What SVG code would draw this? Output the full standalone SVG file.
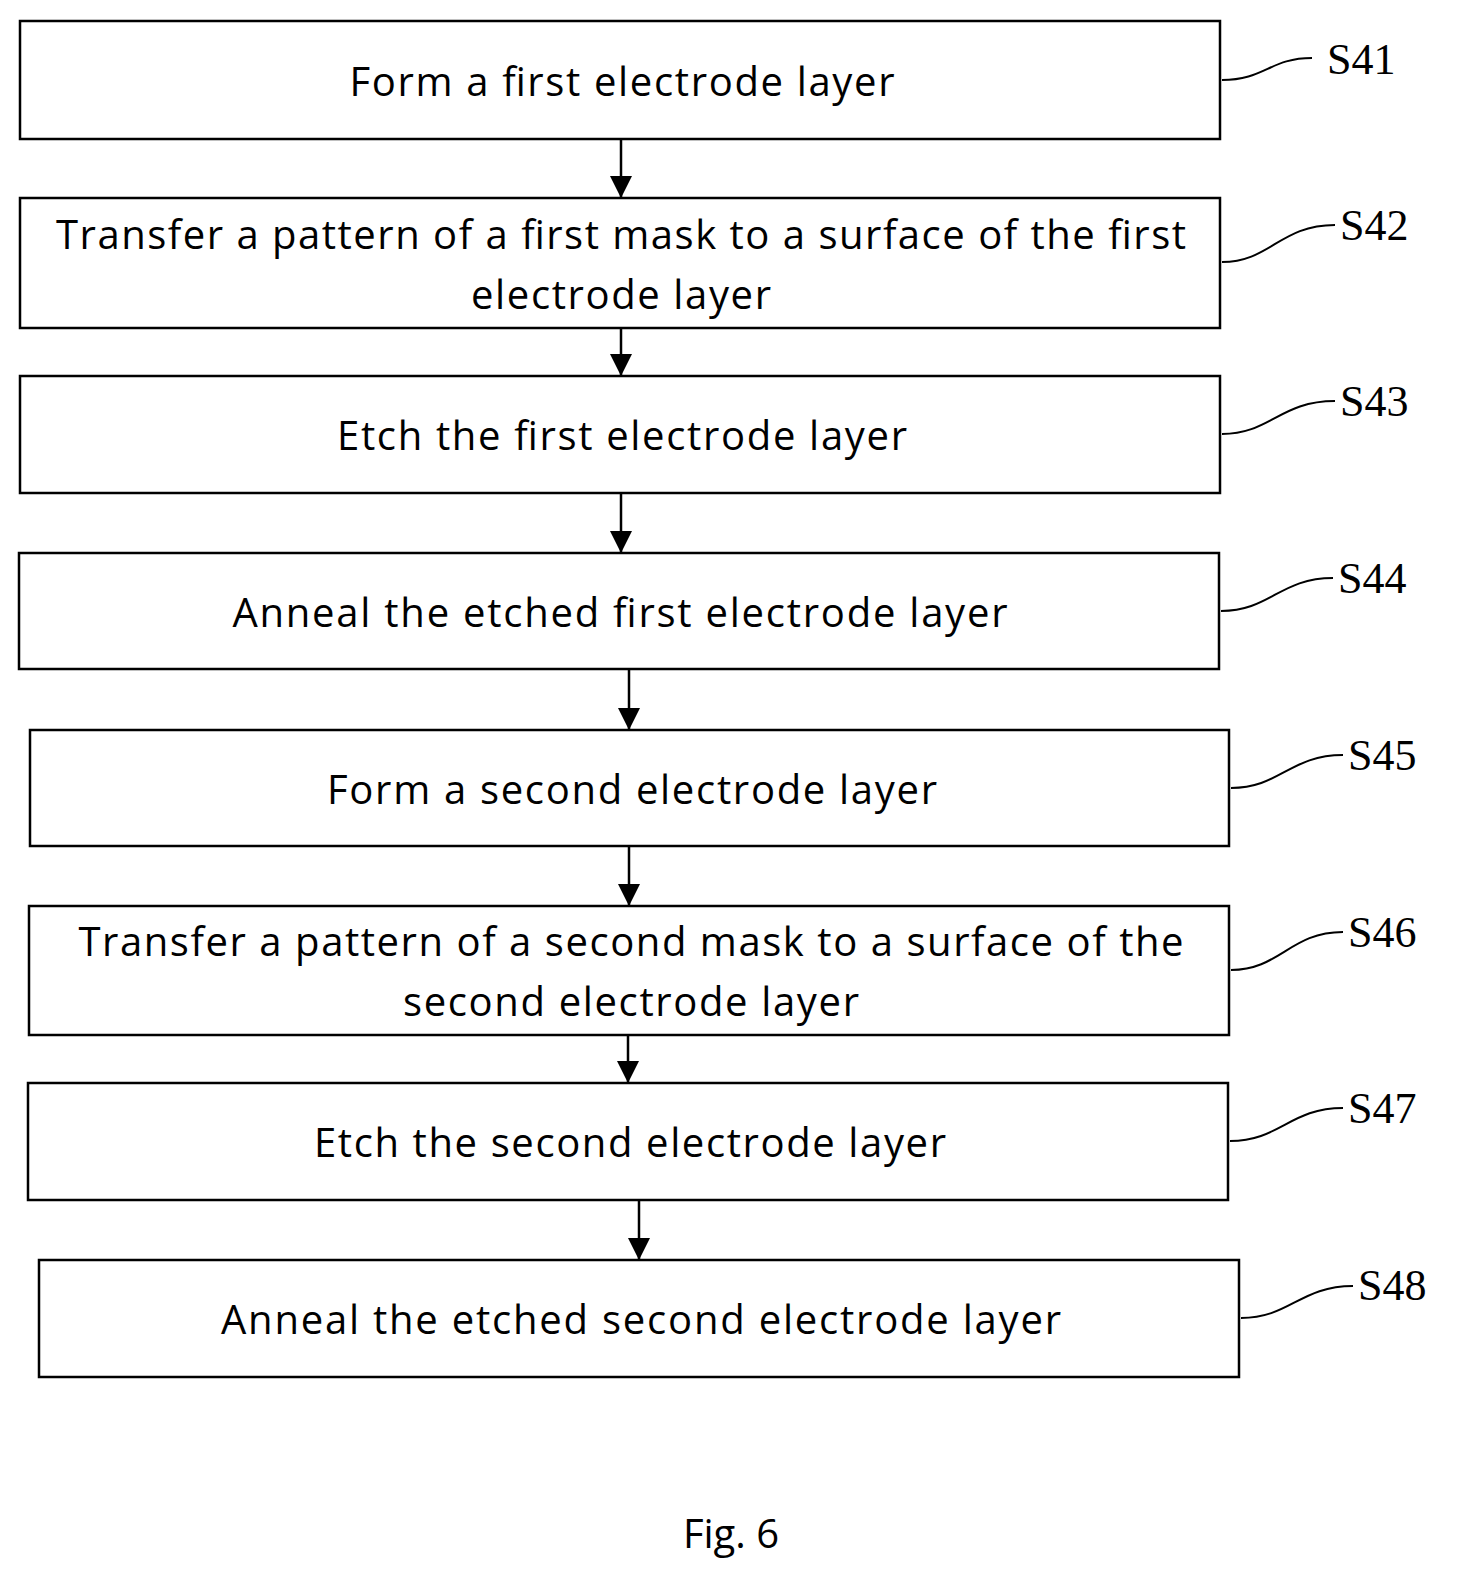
<svg xmlns="http://www.w3.org/2000/svg" width="1457" height="1576" viewBox="0 0 1457 1576">
<defs>
<style>
.b{fill:#fff;stroke:#000;stroke-width:2.5}
.t{font-family:"Open Sans","Liberation Sans",sans-serif;font-size:40px;text-anchor:middle;fill:#000}
.l{font-family:"Liberation Serif",serif;font-size:44px;fill:#000}
.c{fill:none;stroke:#000;stroke-width:2}
.a{stroke:#000;stroke-width:2.5;marker-end:url(#ah2)}
</style>
<marker id="ah2" viewBox="0 0 20 20" refX="20" refY="10" markerWidth="22" markerHeight="22" orient="auto" markerUnits="userSpaceOnUse"><path d="M0,0L20,10L0,20z"/></marker>
</defs>
<rect width="1457" height="1576" fill="#fff"/>
<g id="connectors">
<line class="a" x1="621" y1="139" x2="621" y2="198"/>
<line class="a" x1="621" y1="328" x2="621" y2="376"/>
<line class="a" x1="621" y1="493" x2="621" y2="553"/>
<line class="a" x1="629" y1="669" x2="629" y2="730"/>
<line class="a" x1="629" y1="846" x2="629" y2="906"/>
<line class="a" x1="628" y1="1035" x2="628" y2="1083"/>
<line class="a" x1="639" y1="1200" x2="639" y2="1260"/>
<path class="c" d="M1222,80 C1265,80 1270,58 1312,58"/>
<path class="c" d="M1222,262 C1270,262 1280,225 1335,225"/>
<path class="c" d="M1222,434 C1270,434 1280,401 1335,401"/>
<path class="c" d="M1221,611 C1270,611 1280,578 1333,578"/>
<path class="c" d="M1231,788 C1280,788 1290,755 1343,755"/>
<path class="c" d="M1231,970 C1280,970 1290,932 1343,932"/>
<path class="c" d="M1230,1141 C1280,1141 1290,1108 1343,1108"/>
<path class="c" d="M1241,1318 C1290,1318 1300,1286 1353,1286"/>
</g>
<g id="s41"><rect class="b" x="20" y="21" width="1200" height="118"/><text class="t" x="622" y="96" textLength="545">Form a first electrode layer</text><text class="l" x="1327" y="74">S41</text></g>
<g id="s42"><rect class="b" x="20" y="198" width="1200" height="130"/><text class="t" x="621" y="249" textLength="1130">Transfer a pattern of a first mask to a surface of the first</text><text class="t" x="621" y="309" textLength="300">electrode layer</text><text class="l" x="1340" y="240">S42</text></g>
<g id="s43"><rect class="b" x="20" y="376" width="1200" height="117"/><text class="t" x="622" y="450" textLength="570">Etch the first electrode layer</text><text class="l" x="1340" y="416">S43</text></g>
<g id="s44"><rect class="b" x="19" y="553" width="1200" height="116"/><text class="t" x="620" y="627" textLength="775">Anneal the etched first electrode layer</text><text class="l" x="1338" y="593">S44</text></g>
<g id="s45"><rect class="b" x="30" y="730" width="1199" height="116"/><text class="t" x="632" y="804" textLength="610">Form a second electrode layer</text><text class="l" x="1348" y="770">S45</text></g>
<g id="s46"><rect class="b" x="29" y="906" width="1200" height="129"/><text class="t" x="631" y="956" textLength="1105">Transfer a pattern of a second mask to a surface of the</text><text class="t" x="631" y="1016" textLength="456">second electrode layer</text><text class="l" x="1348" y="947">S46</text></g>
<g id="s47"><rect class="b" x="28" y="1083" width="1200" height="117"/><text class="t" x="630" y="1157" textLength="632">Etch the second electrode layer</text><text class="l" x="1348" y="1123">S47</text></g>
<g id="s48"><rect class="b" x="39" y="1260" width="1200" height="117"/><text class="t" x="641" y="1334" textLength="840">Anneal the etched second electrode layer</text><text class="l" x="1358" y="1300">S48</text></g>
<text class="t" x="731" y="1548">Fig. 6</text>
</svg>
